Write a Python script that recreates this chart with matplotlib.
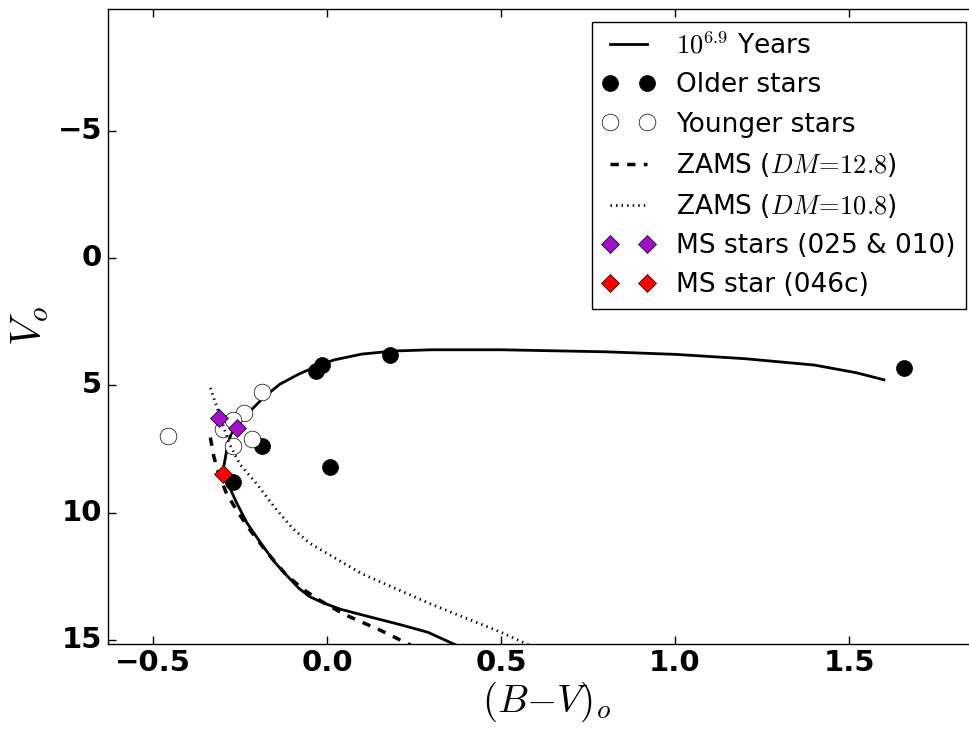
import matplotlib
matplotlib.use('Agg')
import matplotlib.pyplot as plt

# 10^6.9 yr isochrone
iso_bv = [0.37, 0.33, 0.29, 0.21, 0.11, 0.04, -0.01, -0.05, -0.08, -0.11, -0.15, -0.19, -0.23,
          -0.26, -0.28, -0.295, -0.298, -0.29, -0.285, -0.275, -0.25, -0.22, -0.18, -0.135,
          -0.08, -0.03, 0.02, 0.10, 0.19, 0.30, 0.5, 0.8, 1.0, 1.2, 1.4, 1.52, 1.6]
iso_v = [15.2, 14.95, 14.7, 14.4, 14.05, 13.8, 13.55, 13.3, 12.98, 12.55, 11.95, 11.2, 10.4,
         9.6, 9.0, 8.55, 8.3, 7.7, 7.3, 6.9, 6.45, 6.0, 5.45, 4.95,
         4.55, 4.25, 4.0, 3.77, 3.65, 3.6, 3.6, 3.68, 3.78, 3.95, 4.2, 4.5, 4.78]

# ZAMS, DM = 12.8
zams1_bv = [-0.335, -0.325, -0.31, -0.29, -0.26, -0.22, -0.17, -0.12, -0.07, -0.02, 0.05, 0.15, 0.24]
zams1_v = [7.05, 7.8, 8.5, 9.2, 9.9, 10.7, 11.6, 12.4, 13.0, 13.45, 14.0, 14.6, 15.2]

# ZAMS, DM = 10.8
zams2_bv = [-0.335, -0.32, -0.30, -0.28, -0.25, -0.2, -0.15, -0.1, -0.05, 0.0, 0.1, 0.2, 0.3, 0.4, 0.5, 0.58]
zams2_v = [5.1, 5.7, 6.5, 7.3, 8.1, 8.9, 9.8, 10.6, 11.2, 11.6, 12.4, 13.0, 13.6, 14.15, 14.7, 15.2]

old_bv = [1.658, 0.181, -0.014, -0.032, -0.187, 0.009, -0.27]
old_v = [4.31, 3.80, 4.2, 4.45, 7.37, 8.2, 8.81]

young_bv = [-0.457, -0.187, -0.239, -0.299, -0.27, -0.216, -0.27]
young_v = [6.98, 5.25, 6.1, 6.72, 6.35, 7.1, 7.37]

ms_bv = [-0.31, -0.258]
ms_v = [6.27, 6.69]

ms046_bv = [-0.298]
ms046_v = [8.48]

plt.style.use('classic')
plt.rcParams['mathtext.fontset'] = 'cm'

fig = plt.figure(figsize=(9.7, 7.29), dpi=100, facecolor='white')
ax = fig.add_axes([0.111, 0.117, 0.905, 0.871])

ax.plot(iso_bv, iso_v, 'k-', lw=2, label=r'$10^{6.9}$ Years')
ax.plot(old_bv, old_v, 'ko', ms=11.5, ls='none', label='Older stars')
ax.plot(young_bv, young_v, 'o', mfc='white', mec='k', ms=12, ls='none', label='Younger stars')
ax.plot(zams1_bv, zams1_v, 'k--', lw=2.5, label=r'ZAMS ($DM\!=\!12.8$)')
ax.plot(zams2_bv, zams2_v, 'k:', lw=2, label=r'ZAMS ($DM\!=\!10.8$)')
ax.plot(ms_bv, ms_v, 'D', color='#a010c8', mec='k', mew=0.5, ms=9, ls='none', label='MS stars (025 & 010)')
ax.plot(ms046_bv, ms046_v, 'D', color='red', mec='k', mew=0.5, ms=9, ls='none', label='MS star (046c)')

ax.set_xlim(-0.63, 1.892)
ax.set_ylim(15.15, -9.8)
ax.set_yticks([-5, 0, 5, 10, 15])
ax.set_xticks([-0.5, 0.0, 0.5, 1.0, 1.5])

for lab in ax.get_xticklabels() + ax.get_yticklabels():
    lab.set_fontsize(21)
    lab.set_fontweight('bold')
ax.tick_params(length=6, width=1)

ax.set_xlabel(r'$(B{-}V)_o$', fontsize=28, labelpad=2)
ax.set_ylabel(r'$V_o$', fontsize=30)

leg = ax.legend(loc='upper right', numpoints=2, fontsize=19, handlelength=2.0,
                borderaxespad=0.5, frameon=True, bbox_to_anchor=(0.993, 1.0))

fig.savefig('out.png', dpi=100, facecolor='white')
